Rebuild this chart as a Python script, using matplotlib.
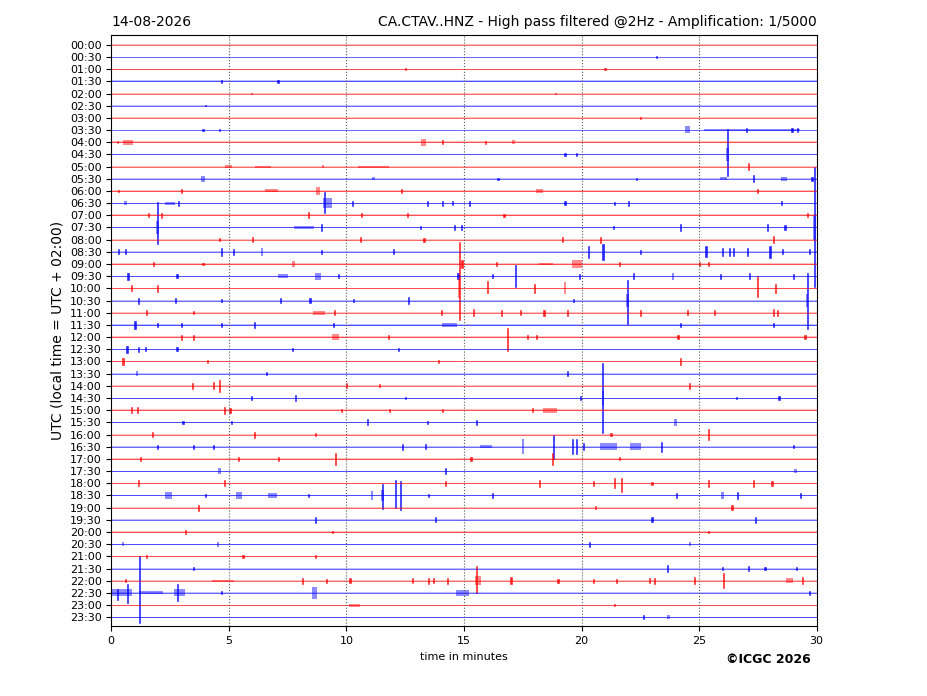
import matplotlib
matplotlib.use('Agg')
import matplotlib.pyplot as plt

row_labels = ['00:00', '00:30', '01:00', '01:30', '02:00', '02:30', '03:00', '03:30',
              '04:00', '04:30', '05:00', '05:30', '06:00', '06:30', '07:00', '07:30',
              '08:00', '08:30', '09:00', '09:30', '10:00', '10:30', '11:00', '11:30',
              '12:00', '12:30', '13:00', '13:30', '14:00', '14:30', '15:00', '15:30',
              '16:00', '16:30', '17:00', '17:30', '18:00', '18:30', '19:00', '19:30',
              '20:00', '20:30', '21:00', '21:30', '22:00', '22:30', '23:00', '23:30']

# background noise half-width of each trace (in row units)
noise = [0.03, 0.03, 0.04, 0.07, 0.03, 0.03, 0.04, 0.03,
         0.09, 0.07, 0.04, 0.04, 0.05, 0.04, 0.08, 0.06,
         0.05, 0.04, 0.07, 0.05, 0.05, 0.04, 0.06, 0.05,
         0.06, 0.04, 0.07, 0.04, 0.05, 0.04, 0.07, 0.04,
         0.07, 0.04, 0.05, 0.04, 0.05, 0.04, 0.05, 0.04,
         0.05, 0.04, 0.04, 0.07, 0.06, 0.04, 0.04, 0.04]

# events per trace: (minute, duration, amplitude up, amplitude down)
events = [
    [],
    [(23.2, .05, .08, .08)],
    [(12.5, .05, .08, .08), (21.0, .05, .08, .08)],
    [(4.7, .05, .1, .1), (7.1, .08, .15, .15)],
    [(5.95, .05, .08, .08), (18.9, .05, .08, .08)],
    [(4.0, .05, .06, .06)],
    [(22.5, .05, .06, .06)],
    [(3.9, .05, .08, .08), (4.6, .05, .08, .08), (24.5, .2, .3, .25), (27.25, 4.1, .06, .06),
     (27.0, .05, .15, .15), (28.95, .05, .15, .15), (29.2, .05, .15, .15)],
    [(0.3, .1, .12, .12), (0.72, .45, .2, .2), (13.27, .2, .3, .3), (14.1, .05, .15, .15),
     (15.9, .05, .12, .12), (17.1, .1, .15, .15)],
    [(19.3, .05, .15, .15), (19.8, .05, .1, .1), (26.2, .04, 2.1, 1.8), (26.2, .15, .5, .5)],
    [(5.0, .3, .12, .12), (6.45, .7, .08, .08), (9.0, .1, .12, .12), (11.15, 1.3, .08, .08),
     (27.1, .05, .3, .3)],
    [(3.9, .2, .25, .25), (11.15, .1, .12, .12), (16.45, .05, .08, .08), (22.35, .05, .1, .1),
     (26.05, .3, .12, .12), (27.3, .05, .3, .3), (28.6, .25, .15, .15), (29.8, .05, .15, .15)],
    [(0.3, .05, .1, .1), (3.0, .05, .2, .2), (6.8, .55, .12, .12), (8.8, .15, .3, .3),
     (12.35, .05, .15, .15), (18.2, .3, .15, .15), (27.5, .05, .15, .15)],
    [(0.6, .1, .18, .18), (2.5, .4, .12, .12), (2.85, .05, .2, .2), (9.05, .04, .9, .85),
     (9.2, .4, .4, .4), (10.25, .05, .2, .2), (13.45, .05, .2, .2), (14.1, .05, .2, .2),
     (14.5, .05, .15, .15), (15.25, .05, .2, .2), (19.3, .05, .15, .15), (21.4, .05, .12, .12),
     (22.0, .05, .2, .2), (28.5, .05, .15, .15)],
    [(1.6, .05, .15, .15), (2.15, .05, .2, .2), (8.4, .05, .25, .25), (10.65, .05, .15, .15),
     (12.6, .05, .15, .15), (16.7, .05, .1, .1), (29.6, .05, .15, .15)],
    [(1.95, .04, 2.1, 1.35), (1.95, .12, .5, .5), (8.2, .85, .12, .12), (8.95, .05, .25, .25),
     (13.15, .05, .15, .15), (14.6, .05, .2, .2), (14.9, .05, .2, .2), (21.35, .05, .15, .15),
     (24.2, .05, .25, .25), (27.9, .05, .25, .25), (28.65, .05, .2, .2), (29.9, .06, 5.0, 4.9),
     (29.9, .1, 1.0, 1.0)],
    [(4.6, .05, .1, .1), (6.0, .05, .2, .2), (10.6, .05, .2, .2), (13.3, .05, .15, .15),
     (19.2, .05, .2, .2), (20.8, .05, .25, .25), (28.15, .05, .3, .3)],
    [(0.3, .05, .2, .2), (0.6, .05, .2, .2), (4.7, .05, .3, .3), (5.2, .05, .25, .25),
     (6.4, .1, .3, .3), (8.95, .05, .15, .15), (12.0, .05, .2, .2), (20.3, .05, .5, .5),
     (20.9, .08, .65, .65), (22.5, .05, .15, .15), (25.3, .08, .45, .45), (26.0, .05, .3, .3),
     (26.3, .05, .3, .3), (26.45, .05, .3, .3), (27.05, .05, .35, .35), (28.0, .08, .5, .5),
     (28.55, .05, .2, .2), (29.7, .05, .2, .2)],
    [(1.8, .05, .15, .15), (3.9, .05, .1, .1), (7.75, .1, .25, .25), (14.9, .08, .3, .3),
     (16.4, .05, .15, .15), (18.5, .6, .12, .12), (19.8, .4, .35, .35), (21.6, .05, .15, .15),
     (25.0, .05, .15, .15), (25.4, .05, .15, .15)],
    [(0.7, .08, .3, .3), (2.8, .05, .15, .15), (7.3, .4, .15, .15), (8.8, .25, .3, .3),
     (9.65, .05, .15, .15), (14.75, .05, .25, .25), (16.2, .05, .15, .15), (17.2, .04, .95, .9),
     (19.9, .05, .2, .2), (22.2, .05, .25, .25), (23.9, .1, .3, .3), (25.9, .05, .2, .2),
     (27.15, .05, .25, .25), (29.0, .05, .2, .2)],
    [(0.85, .05, .25, .25), (1.95, .05, .3, .3), (14.8, .04, 3.85, 2.6), (14.8, .1, .8, .8),
     (16.0, .05, .6, .4), (18.0, .05, .35, .35), (19.3, .1, .5, .5), (27.5, .04, 1.0, .7),
     (28.25, .05, .35, .35)],
    [(1.15, .05, .25, .25), (2.75, .05, .2, .2), (4.7, .05, .15, .15), (7.2, .05, .2, .2),
     (8.45, .05, .2, .2), (10.3, .05, .15, .15), (12.65, .05, .3, .3), (19.65, .05, .15, .15),
     (21.95, .04, 1.7, 1.9), (21.95, .1, .5, .5), (29.6, .04, 2.3, 2.35), (29.6, .1, .5, .5)],
    [(1.5, .05, .2, .2), (3.5, .05, .12, .12), (8.85, .5, .15, .15), (9.5, .05, .2, .2),
     (14.05, .05, .2, .2), (15.4, .05, .3, .3), (16.6, .05, .25, .25), (17.4, .05, .2, .2),
     (18.4, .05, .25, .25), (19.4, .05, .25, .25), (22.5, .05, .25, .25), (24.5, .05, .2, .2),
     (25.65, .05, .2, .2), (28.15, .05, .3, .3), (28.35, .05, .25, .25)],
    [(1.0, .08, .35, .35), (1.95, .05, .15, .15), (3.0, .05, .2, .2), (4.7, .05, .15, .15),
     (6.1, .05, .25, .25), (9.45, .05, .15, .15), (14.4, .65, .15, .15), (24.2, .05, .2, .2),
     (28.15, .05, .15, .15)],
    [(3.0, .05, .2, .2), (3.5, .05, .2, .2), (9.55, .3, .25, .25), (11.8, .05, .15, .15),
     (16.85, .04, .75, 1.1), (17.7, .05, .15, .15), (18.1, .05, .15, .15), (24.1, .05, .15, .15),
     (29.5, .05, .15, .15)],
    [(0.67, .05, .3, .3), (1.15, .05, .2, .2), (1.45, .05, .15, .15), (2.8, .05, .15, .15),
     (7.7, .05, .12, .12), (12.2, .05, .12, .12)],
    [(0.5, .05, .3, .3), (4.1, .05, .12, .12), (13.9, .05, .12, .12), (24.2, .05, .25, .25)],
    [(1.1, .1, .18, .18), (6.6, .05, .12, .12), (19.4, .05, .2, .2)],
    [(3.45, .05, .25, .25), (4.35, .05, .3, .3), (4.6, .05, .5, .5), (10.0, .05, .2, .2),
     (11.4, .05, .12, .12), (24.6, .05, .25, .25)],
    [(5.95, .05, .2, .2), (7.85, .05, .25, .25), (12.5, .05, .12, .12), (19.95, .05, .15, .15),
     (20.9, .04, 2.9, 2.9), (20.9, .1, .6, .6), (26.6, .05, .12, .12), (28.4, .05, .2, .2)],
    [(0.85, .05, .25, .25), (1.1, .05, .25, .25), (4.8, .05, .3, .3), (5.05, .05, .2, .2),
     (9.8, .05, .12, .12), (11.85, .05, .12, .12), (14.1, .05, .12, .12), (17.9, .05, .15, .15),
     (18.65, .6, .22, .22)],
    [(3.05, .05, .15, .15), (5.1, .05, .15, .15), (10.9, .05, .25, .25), (13.45, .05, .15, .15),
     (15.55, .05, .2, .2), (24.0, .1, .3, .3)],
    [(1.75, .05, .2, .2), (6.1, .05, .25, .25), (8.7, .05, .12, .12), (21.25, .05, .12, .12),
     (25.4, .05, .45, .45)],
    [(1.95, .05, .15, .15), (3.5, .05, .15, .15), (4.35, .05, .15, .15), (12.4, .05, .25, .25),
     (13.35, .05, .2, .2), (15.95, .5, .12, .12), (17.5, .1, .6, .6), (18.8, .04, 1.0, 1.0),
     (19.6, .05, .6, .6), (19.8, .05, .6, .6), (20.1, .05, .3, .3), (21.15, .7, .3, .3),
     (22.3, .45, .28, .28), (23.4, .05, .4, .4), (29.0, .05, .12, .12)],
    [(1.23, .05, .15, .15), (5.4, .05, .15, .15), (7.1, .05, .15, .15), (9.55, .04, .5, .5),
     (15.3, .05, .15, .15), (18.75, .04, .5, .5), (21.6, .05, .12, .12)],
    [(4.6, .1, .22, .22), (14.2, .05, .25, .25), (29.1, .1, .18, .18)],
    [(1.15, .05, .25, .25), (4.8, .05, .25, .25), (14.2, .05, .2, .2), (18.2, .05, .3, .3),
     (20.5, .05, .2, .2), (21.4, .05, .4, .4), (21.7, .05, .4, .7), (23.0, .05, .12, .12),
     (25.4, .05, .3, .3), (27.3, .05, .3, .3), (28.1, .05, .2, .2)],
    [(2.45, .3, .25, .25), (4.0, .05, .15, .15), (5.42, .25, .25, .25), (6.85, .4, .2, .2),
     (8.4, .05, .15, .15), (11.1, .1, .35, .35), (11.55, .04, .9, 1.1), (11.55, .12, .45, .45),
     (12.1, .04, 1.3, 1.0), (12.3, .04, 1.2, 1.2), (13.5, .05, .12, .12), (16.2, .05, .2, .2),
     (24.05, .05, .2, .2), (26.0, .1, .25, .25), (26.65, .05, .25, .25), (29.3, .05, .2, .2)],
    [(3.7, .05, .25, .25), (20.6, .05, .12, .12), (26.4, .05, .2, .2)],
    [(8.7, .05, .25, .25), (13.8, .05, .2, .2), (23.0, .05, .2, .2), (27.4, .05, .25, .25)],
    [(3.15, .05, .2, .2), (9.4, .05, .12, .12), (25.4, .05, .12, .12)],
    [(0.5, .1, .18, .18), (4.55, .1, .22, .22), (20.35, .05, .2, .2), (24.6, .1, .18, .18)],
    [(1.5, .05, .15, .15), (5.6, .05, .15, .15), (8.7, .05, .15, .15)],
    [(3.5, .05, .1, .1), (23.65, .05, .25, .25), (26.0, .05, .15, .15), (27.1, .05, .2, .2),
     (27.8, .05, .15, .15), (29.15, .05, .15, .15)],
    [(0.6, .05, .12, .12), (4.75, .9, .08, .08), (8.15, .05, .25, .25), (9.15, .05, .15, .15),
     (10.15, .05, .2, .2), (12.8, .05, .2, .2), (13.5, .05, .25, .25), (13.7, .05, .2, .2),
     (14.3, .05, .25, .25), (15.55, .04, 1.2, 1.0), (15.6, .25, .35, .35), (17.0, .05, .3, .3),
     (19.0, .05, .15, .15), (20.5, .05, .15, .15), (21.5, .05, .15, .15), (22.9, .05, .2, .2),
     (23.1, .05, .25, .25), (24.8, .05, .3, .3), (26.05, .04, .6, .6), (28.85, .3, .2, .2),
     (29.4, .05, .3, .3)],
    [(0.45, .9, .28, .28), (0.27, .04, .35, .55), (0.7, .04, .75, .85), (1.2, .04, 3.0, 2.5),
     (1.7, 1.0, .12, .12), (2.9, .5, .28, .28), (2.8, .04, .75, .65), (4.7, .05, .12, .12),
     (8.65, .2, .45, .5), (14.95, .55, .22, .22), (29.7, .05, .15, .15)],
    [(10.35, .5, .12, .12), (21.4, .05, .1, .1)],
    [(22.65, .05, .15, .15), (23.7, .1, .18, .18)],
]

fig, ax = plt.subplots(figsize=(9.27, 6.96), dpi=100)
plt.subplots_adjust(left=0.12, right=0.881, top=0.95, bottom=0.10)

for i, label in enumerate(row_labels):
    col = 'red' if i % 2 == 0 else 'blue'
    ax.fill_between([0, 30], i - noise[i], i + noise[i], color=col, alpha=0.25, linewidth=0)
    ax.plot([0, 30], [i, i], color=col, linewidth=0.7, alpha=0.6)
    for t, w, up, down in events[i]:
        # narrow spikes drawn solid, longer bursts drawn as a faint envelope
        if w < 0.1:
            ax.bar(t, up + down, width=w, bottom=i - up, color=col, edgecolor=col,
                   linewidth=0.4, alpha=0.85)
        else:
            ax.bar(t, up + down, width=w, bottom=i - up, color=col, linewidth=0, alpha=0.45)

for m in [5, 10, 15, 20, 25]:
    ax.axvline(m, color='0.35', linestyle=':', linewidth=0.8)

ax.set_xlim(0, 30)
ax.set_ylim(47.75, -0.82)
ax.set_yticks(range(len(row_labels)))
ax.set_yticklabels(row_labels, fontsize=8)
ax.set_xticks([0, 5, 10, 15, 20, 25, 30])
ax.tick_params(axis='x', labelsize=8)
ax.set_xlabel('time in minutes', fontsize=8)
ax.set_ylabel('UTC (local time = UTC + 02:00)', fontsize=10)
ax.set_title('14-08-2026', loc='left', fontsize=10)
ax.set_title('CA.CTAV..HNZ - High pass filtered @2Hz - Amplification: 1/5000', loc='right', fontsize=10)
fig.text(0.875, 0.048, '©ICGC 2026', fontsize=9, fontweight='bold', ha='right')

plt.savefig('out.png')
